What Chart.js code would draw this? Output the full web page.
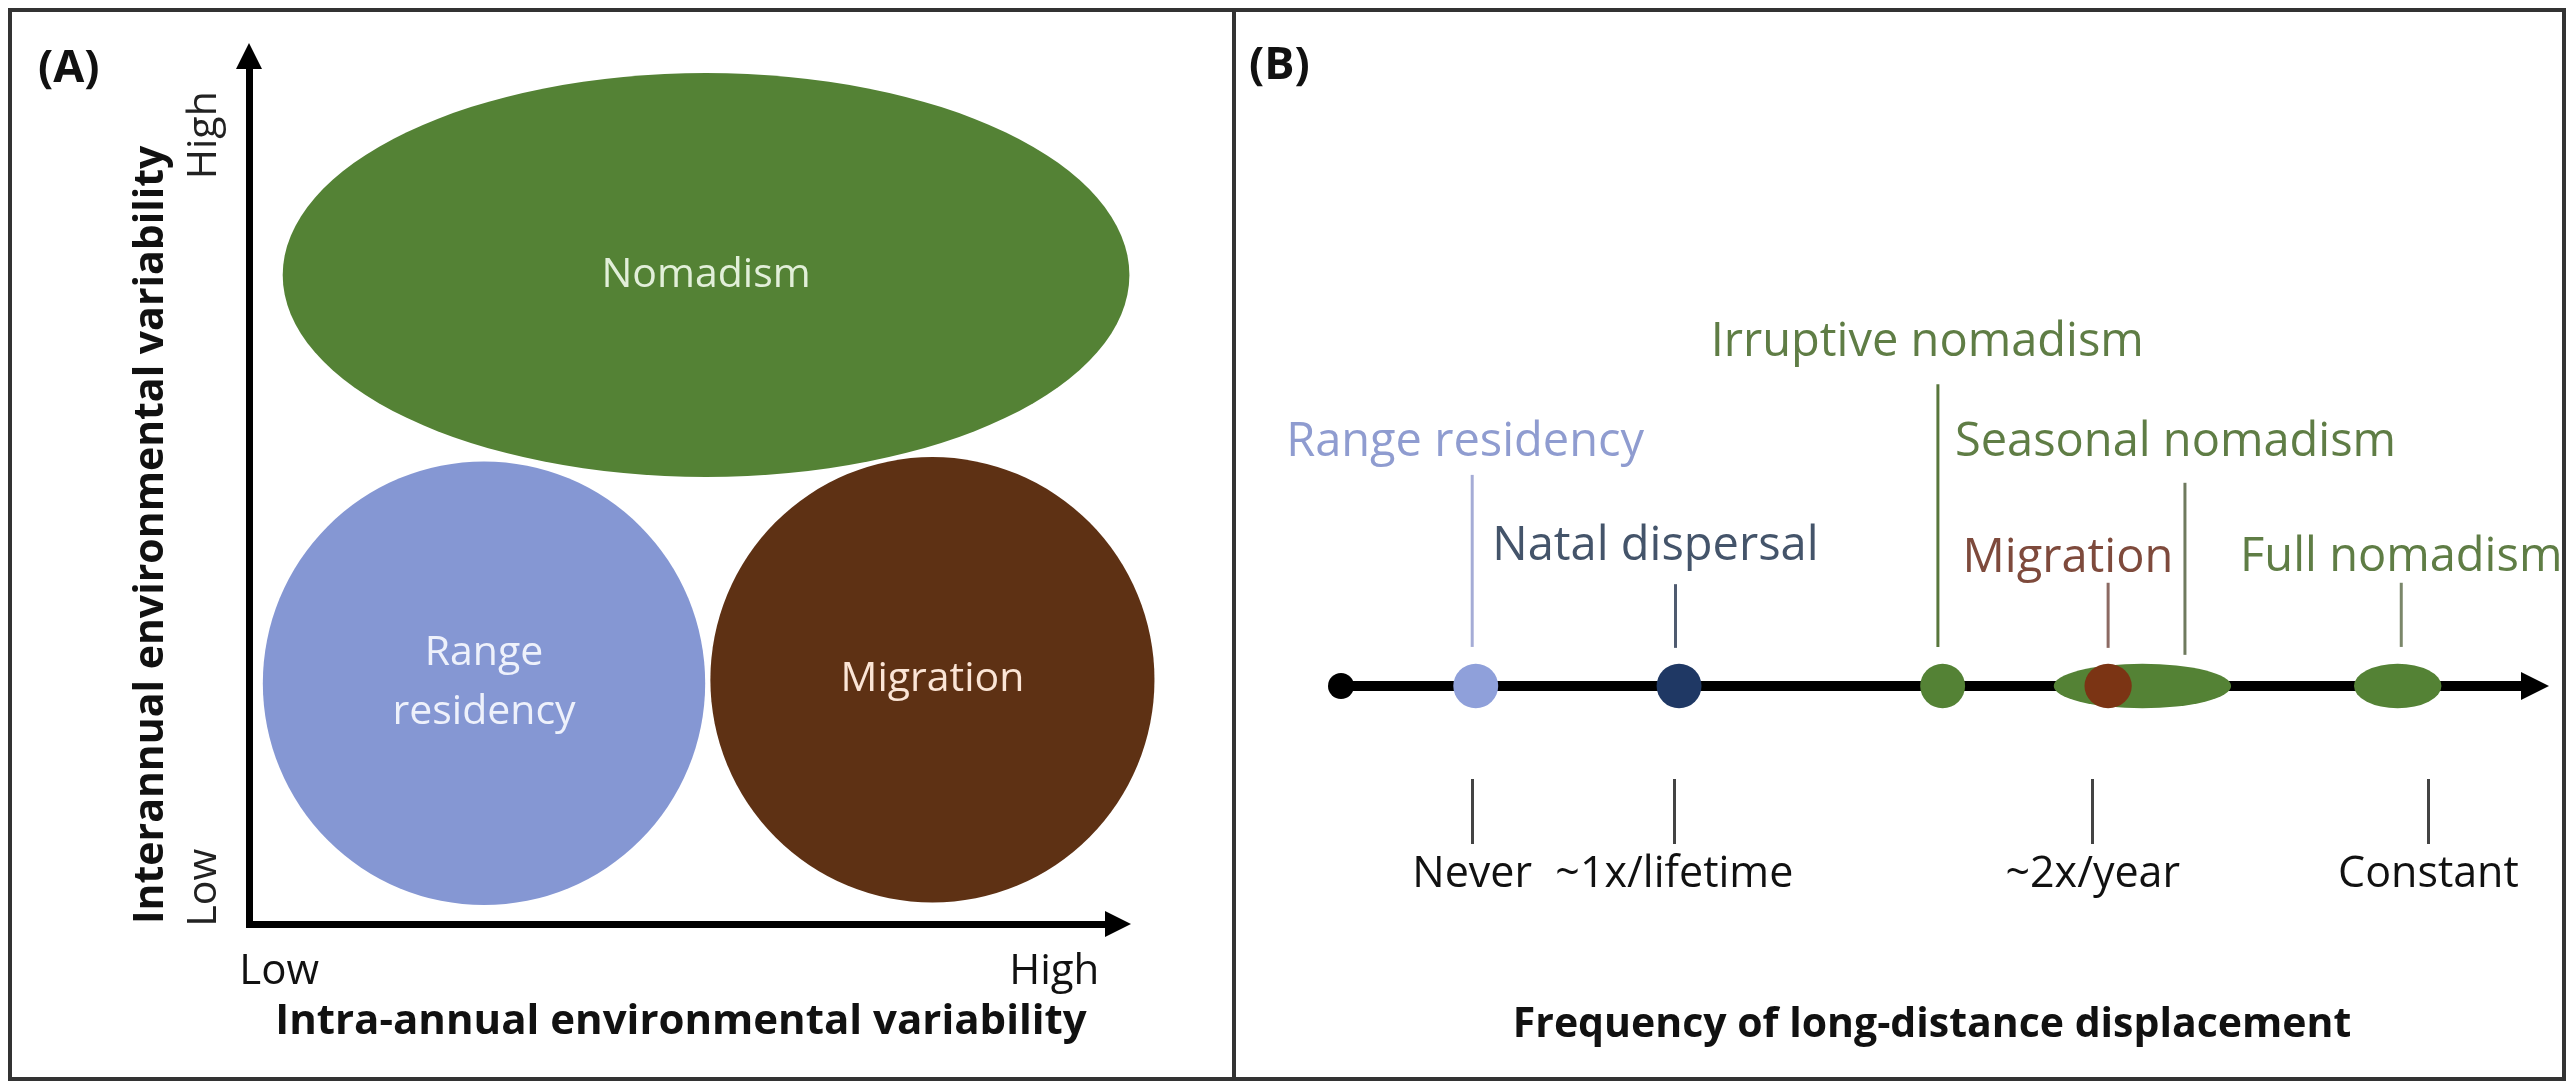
<!DOCTYPE html>
<html>
  <head>
    <meta charset="utf-8" />
    <title>Movement strategies</title>
    <script src="https://cdn.jsdelivr.net/npm/chart.js@4.4.1/dist/chart.umd.min.js"></script>
    <style>
      body { margin: 0; background: #fff; }
      #wrap { position: relative; width: 2570px; height: 1085px; }
      canvas { position: absolute; top: 0; }
      #chartA { left: 0; }
      #chartB { left: 1233px; }
      .frame { position: absolute; box-sizing: border-box; border: 4px solid #333; pointer-events: none; }
    </style>
  </head>
  <body>
    <div id="wrap">
      <canvas id="chartA" width="1233" height="1085"></canvas>
      <canvas id="chartB" width="1337" height="1085"></canvas>
      <div class="frame" style="left: 8px; top: 8px; width: 1228px; height: 1073px"></div>
      <div class="frame" style="left: 1232px; top: 8px; width: 1334px; height: 1073px"></div>
    </div>

    <script>
      // panel A: regimes placed on the two variability axes (0 = low, 10 = high)
      const regimes = ["Nomadism", "Range\nresidency", "Migration"];
      const intraAnnual = [5.29, 2.72, 7.91];
      const interAnnual = [7.52, 2.79, 2.83];
      const intraAnnualSpread = [4.9, 2.56, 2.57];
      const interAnnualSpread = [2.34, 2.57, 2.58];
      const levelTicksX = [0.35, 9.32];
      const levelTicksY = [0.42, 9.14];
      const levelLabels = ["Low", "High"];

      // panel B: behaviours along the displacement-frequency axis (0..10)
      const behaviours = [
        "Range residency",
        "Natal dispersal",
        "Irruptive nomadism",
        "Seasonal nomadism",
        "Migration",
        "Full nomadism",
      ];
      const frequency = [1.14, 2.86, 5.09, 6.78, 6.49, 8.94];
      const frequencySpread = [0.19, 0.19, 0.19, 0.75, 0.2, 0.37];
      const labelAt = [1.05, 2.66, 4.96, 7.06, 6.15, 8.97];
      const labelLevel = [5.23, 2.99, 7.38, 5.23, 2.75, 2.77];
      const leaderAt = [1.11, 2.83, 5.05, 7.14, 6.49, 8.97];
      const leaderTop = [4.54, 2.19, 6.49, 4.37, 2.22, 2.22];
      const leaderBottom = [0.84, 0.82, 0.84, 0.67, 0.82, 0.84];
      const axisRange = [0, 10];
      const freqTicks = [1.11, 2.82, 6.36, 9.2];
      const freqLabels = ["Never", "~1x/lifetime", "~2x/year", "Constant"];

      const regimeColors = ["#548235", "#8597d3", "#5e3114"];
      const regimeTextColors = ["#e2efd9", "#eef1fb", "#fbe5d6"];
      const dotColors = ["#8fa0da", "#1f3864", "#548235", "#548235", "#7b3414", "#548235"];
      const labelColors = ["#8f9cd0", "#44546a", "#5f7d45", "#5f7d45", "#7e4a3c", "#5f7d45"];
      const leaderColors = ["#a5acd6", "#4f5b70", "#58763c", "#6f7a5e", "#8c6a63", "#7b876a"];

      Chart.defaults.font.family = '"Open Sans", "Noto Sans", sans-serif';
      Chart.defaults.color = "#111";

      function zeroPadding(s) {
        s.paddingLeft = s.paddingRight = s.paddingTop = s.paddingBottom = 0;
      }

      function fillEllipse(ctx, x, y, cx, cy, rx, ry, color) {
        const px = x.getPixelForValue(cx);
        const py = y.getPixelForValue(cy);
        const w = Math.abs(x.getPixelForValue(cx + rx) - px);
        const h = Math.abs(py - y.getPixelForValue(cy + ry));
        ctx.beginPath();
        ctx.ellipse(px, py, w, h, 0, 0, Math.PI * 2);
        ctx.fillStyle = color;
        ctx.fill();
        return [px, py];
      }

      const regimePlugin = {
        id: "regimes",
        beforeDatasetsDraw(chart) {
          const { ctx, scales: { x, y } } = chart;
          ctx.save();
          ctx.textAlign = "center";
          ctx.textBaseline = "middle";
          ctx.font = '41px "Open Sans"';
          regimes.forEach((name, i) => {
            const [px, py] = fillEllipse(ctx, x, y, intraAnnual[i], interAnnual[i],
              intraAnnualSpread[i], interAnnualSpread[i], regimeColors[i]);
            ctx.fillStyle = regimeTextColors[i];
            const lines = name.split("\n");
            lines.forEach((t, k) => {
              ctx.fillText(t, px, py + (k - (lines.length - 1) / 2) * 59);
            });
          });
          ctx.restore();
        },
        afterDraw(chart) {
          const { ctx, chartArea: { left, top, right, bottom } } = chart;
          ctx.save();
          ctx.fillStyle = "#000";
          ctx.beginPath();
          ctx.moveTo(left, top - 18);
          ctx.lineTo(left - 13, top + 8);
          ctx.lineTo(left + 13, top + 8);
          ctx.closePath();
          ctx.fill();
          ctx.beginPath();
          ctx.moveTo(right + 18, bottom);
          ctx.lineTo(right - 8, bottom - 13);
          ctx.lineTo(right - 8, bottom + 13);
          ctx.closePath();
          ctx.fill();
          ctx.font = 'bold 45px "Open Sans"';
          ctx.textBaseline = "middle";
          ctx.fillStyle = "#111";
          ctx.fillText("(A)", 38, 69);
          ctx.restore();
        },
      };

      const timelinePlugin = {
        id: "timeline",
        afterDatasetsDraw(chart) {
          const { ctx, scales: { x, y } } = chart;
          ctx.save();
          behaviours.forEach((name, i) => {
            fillEllipse(ctx, x, y, frequency[i], 0, frequencySpread[i], 0.48, dotColors[i]);
          });
          // arrow head at the end of the axis line
          const ex = x.getPixelForValue(axisRange[1]);
          const ey = y.getPixelForValue(0);
          ctx.fillStyle = "#000";
          ctx.beginPath();
          ctx.moveTo(ex - 2, ey - 14);
          ctx.lineTo(ex + 26, ey);
          ctx.lineTo(ex - 2, ey + 14);
          ctx.closePath();
          ctx.fill();

          ctx.font = '47px "Open Sans"';
          ctx.textAlign = "center";
          ctx.textBaseline = "middle";
          behaviours.forEach((name, i) => {
            ctx.fillStyle = labelColors[i];
            ctx.fillText(name, x.getPixelForValue(labelAt[i]), y.getPixelForValue(labelLevel[i]));
          });

          ctx.font = 'bold 45px "Open Sans"';
          ctx.textAlign = "left";
          ctx.fillStyle = "#111";
          ctx.fillText("(B)", 16, 66);
          ctx.restore();
        },
      };

      new Chart(document.getElementById("chartA"), {
        type: "scatter",
        data: { datasets: [] },
        options: {
          responsive: false,
          animation: false,
          layout: { padding: { top: 61, right: 120, bottom: 0, left: 0 } },
          plugins: { legend: { display: false }, tooltip: { enabled: false } },
          scales: {
            x: {
              type: "linear",
              min: 0,
              max: 10,
              grid: { display: false, drawTicks: false },
              border: { display: true, width: 7, color: "#000" },
              afterBuildTicks: (s) => { s.ticks = levelTicksX.map((v) => ({ value: v })); },
              afterFit: (s) => { s.height = 161; zeroPadding(s); },
              ticks: {
                autoSkip: false,
                maxRotation: 0,
                padding: 23,
                color: "#111",
                font: { size: 42 },
                callback: (v, i) => levelLabels[i],
              },
              title: {
                display: true,
                text: "Intra-annual environmental variability",
                color: "#111",
                font: { size: 42, weight: "bold" },
                padding: { top: 0, bottom: 38 },
              },
            },
            y: {
              type: "linear",
              min: 0,
              max: 10,
              grid: { display: false, drawTicks: false },
              border: { display: true, width: 7, color: "#000" },
              afterBuildTicks: (s) => { s.ticks = levelTicksY.map((v) => ({ value: v })); },
              afterFit: (s) => { s.width = 249; zeroPadding(s); },
              ticks: {
                autoSkip: false,
                minRotation: 90,
                maxRotation: 90,
                crossAlign: "center",
                padding: 1,
                color: "#222",
                font: { size: 41 },
                callback: (v, i) => levelLabels[i],
              },
              title: {
                display: true,
                text: "Interannual environmental variability",
                align: "start",
                color: "#111",
                font: { size: 41, weight: "bold" },
                padding: { top: 127, bottom: 0 },
              },
            },
          },
        },
        plugins: [regimePlugin],
      });

      const leaderSets = behaviours.map((name, i) => ({
        label: name,
        data: [
          { x: leaderAt[i], y: leaderBottom[i] },
          { x: leaderAt[i], y: leaderTop[i] },
        ],
        showLine: true,
        borderColor: leaderColors[i],
        borderWidth: 3,
        pointRadius: 0,
      }));

      new Chart(document.getElementById("chartB"), {
        type: "scatter",
        data: {
          datasets: [
            {
              label: "axis",
              data: [
                { x: axisRange[0], y: 0 },
                { x: axisRange[1], y: 0 },
              ],
              showLine: true,
              borderColor: "#000",
              borderWidth: 10,
              pointRadius: [13, 0],
              pointBorderWidth: 0,
              pointBackgroundColor: "#000",
              clip: false,
            },
            ...leaderSets,
          ],
        },
        options: {
          responsive: false,
          animation: false,
          layout: { padding: { top: 128, right: 47, bottom: 0, left: 108 } },
          plugins: { legend: { display: false }, tooltip: { enabled: false } },
          scales: {
            x: {
              type: "linear",
              min: 0,
              max: 10,
              grid: {
                display: true,
                drawOnChartArea: false,
                drawTicks: true,
                tickLength: 65,
                tickWidth: 3,
                tickColor: "#444",
              },
              border: { display: false },
              afterBuildTicks: (s) => { s.ticks = freqTicks.map((v) => ({ value: v })); },
              afterFit: (s) => { s.height = 306; zeroPadding(s); },
              ticks: {
                autoSkip: false,
                maxRotation: 0,
                padding: 5,
                color: "#111",
                font: { size: 43 },
                callback: (v, i) => freqLabels[i],
              },
              title: {
                display: true,
                text: "Frequency of long-distance displacement",
                color: "#111",
                font: { size: 41, weight: "bold" },
                padding: { top: 0, bottom: 35 },
              },
            },
            y: { type: "linear", display: false, min: -2, max: 12 },
          },
        },
        plugins: [timelinePlugin],
      });
    </script>
  </body>
</html>
